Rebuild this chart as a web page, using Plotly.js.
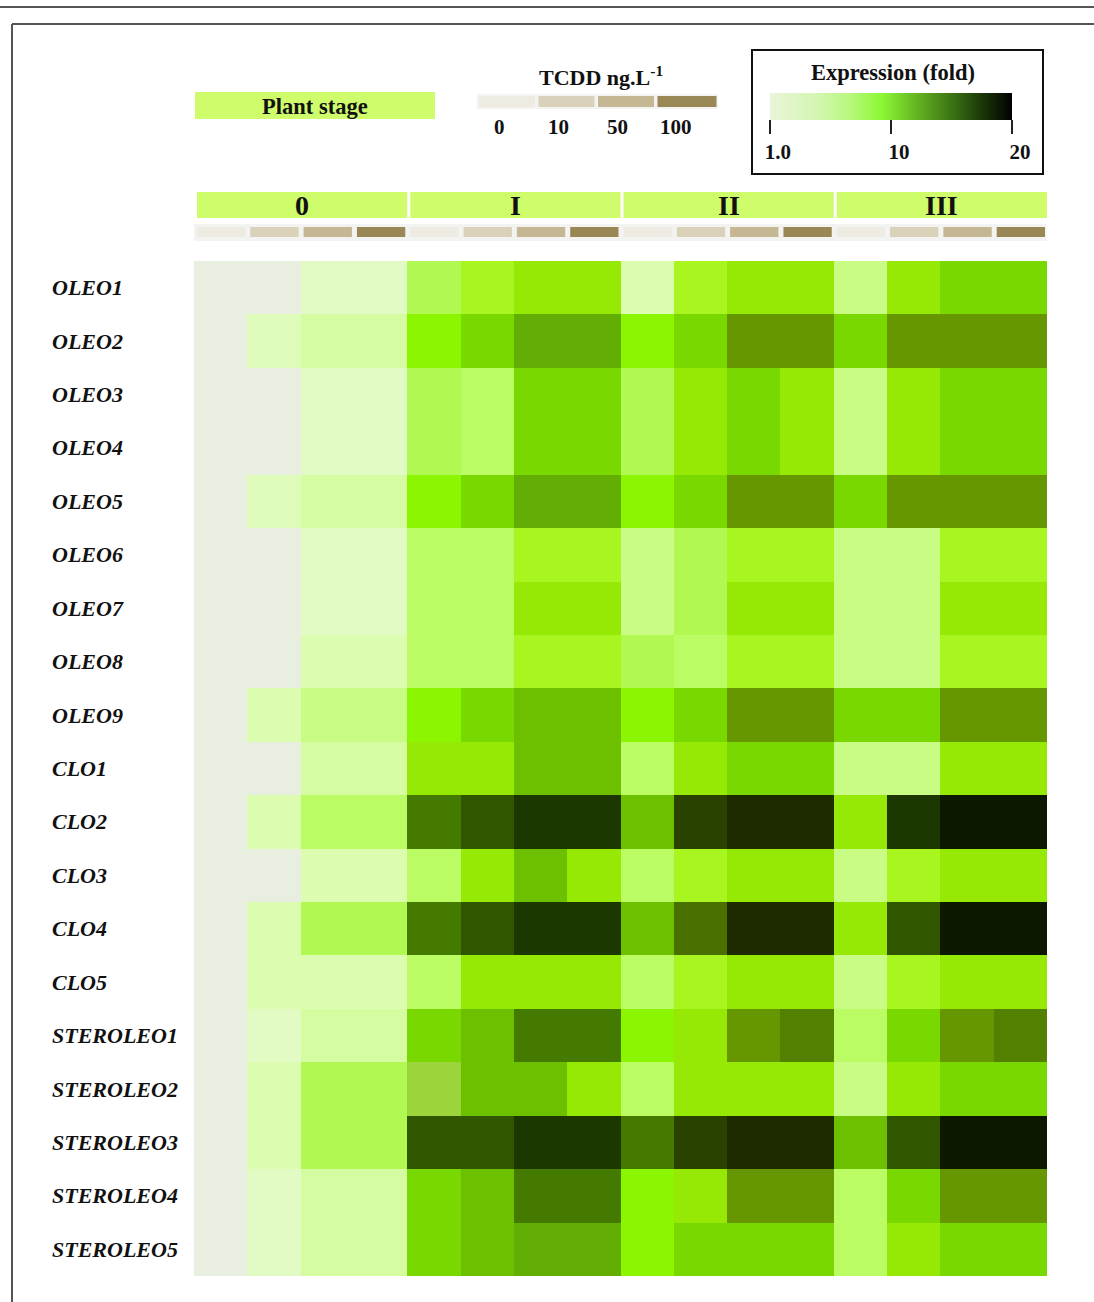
<!DOCTYPE html>
<html>
<head>
<meta charset="utf-8">
<script src="https://cdn.plot.ly/plotly-3.0.1.min.js"></script>
<style>html,body{margin:0;padding:0;background:#fff;}#chart{width:1094px;height:1302px;}</style>
</head>
<body>
<div id="chart"></div>
<script>
// ---------------- DATA ----------------
const genes = ['OLEO1','OLEO2','OLEO3','OLEO4','OLEO5','OLEO6','OLEO7','OLEO8','OLEO9',
  'CLO1','CLO2','CLO3','CLO4','CLO5','STEROLEO1','STEROLEO2','STEROLEO3','STEROLEO4','STEROLEO5'];
const stages = ['0','I','II','III'];
const concs = ['0','10','50','100'];
const concColors = ['#EEEBE2','#D9D1B9','#C5B793','#998856'];
// expression fold (columns: stage 0 [0,10,50,100], stage I [...], stage II [...], stage III [...])
const oleo1 = [1,1,2,2, 6.5,8,9,9, 3,8,9,9, 5,9,11,11];
const oleo2 = [1,2.5,3.5,3.5, 10,11,13,13, 10,11,14,14, 11,14,14,14];
const oleo3 = [1,1,2,2, 6.5,6,11,11, 6.5,9,11,9, 5,9,11,11];
const oleo4 = [1,1,2,2, 6.5,6,11,11, 6.5,9,11,9, 5,9,11,11];
const oleo5 = [1,2.5,3.5,3.5, 10,11,13,13, 10,11,14,14, 11,14,14,14];
const oleo6 = [1,1,2,2, 6,6,8,8, 5,6.5,8,8, 5,5,8,8];
const oleo7 = [1,1,2,2, 6,6,9,9, 5,6.5,9,9, 5,5,9,9];
const oleo8 = [1,1,3,3, 6,6,8,8, 6.5,6,8,8, 5,5,8,8];
const oleo9 = [1,3,5,5, 10,11,12,12, 10,11,14,14, 11,11,14,14];
const clo1 = [1,1,3.5,3.5, 9,9,12,12, 6,9,11,11, 5,5,9,9];
const clo2 = [1,3,6,6, 15.5,16.5,18,18, 12,17,19,19, 9,18,20,20];
const clo3 = [1,1,3,3, 6,9,12,9, 6,8,9,9, 5,8,9,9];
const clo4 = [1,3,6.5,6.5, 15.5,16.5,18,18, 12,15.3,19,19, 9,16.5,20,20];
const clo5 = [1,3,3,3, 6,9,9,9, 6,8,9,9, 5,8,9,9];
const steroleo1 = [1,2,3.5,3.5, 11,12,15.5,15.5, 10,9,14,15, 6,11,14,15];
const steroleo2 = [1,3,6.5,6.5, 8.5,12,12,9, 6,9,9,9, 5,9,11,11];
const steroleo3 = [1,3,6.5,6.5, 16.5,16.5,18,18, 15.5,17,19,19, 12,16.5,20,20];
const steroleo4 = [1,2,3.5,3.5, 11,12,15.5,15.5, 10,9,14,14, 6,11,14,14];
const steroleo5 = [1,2,3.5,3.5, 11,12,13,13, 10,11,11,11, 6,9,11,11];
// legend bar: tick marks as drawn on the 1-20 bar (the "10" mark sits at the bar's middle)
const legendTickPos = [1, 10.5, 20];
const legendTickText = ['1.0', '10', '20'];

// ---------------- STYLE ----------------
const FONT = 'Liberation Serif, "Times New Roman", Times, serif';
const zmin = 1, zmax = 20;
const cellStops = [
  [1,'#E8EEE0'],[2,'#E2FAC4'],[3,'#DCFCB0'],[3.5,'#D6FCA2'],[5,'#C8FC84'],[6,'#BBFC64'],
  [6.5,'#B2F852'],[8,'#A8F520'],[8.5,'#9CD43C'],[9,'#96E805'],[10,'#8CF500'],[11,'#78D800'],
  [12,'#6CC000'],[13,'#62AE04'],[14,'#669600'],[15,'#548000'],[15.3,'#4A7000'],[15.5,'#447A00'],
  [16.5,'#305600'],[17,'#2A4200'],[18,'#1C3800'],[19,'#1E2A00'],[20,'#0C1800']];
const cellScale = cellStops.map(s => [(s[0]-zmin)/(zmax-zmin), s[1]]);
const legendScale = [[0,'#E9F5D9'],[0.2,'#D3F6B0'],[0.33,'#B8F77E'],[0.46,'#8EF834'],
  [0.6,'#66B822'],[0.75,'#3C7414'],[0.88,'#1A3608'],[1,'#000000']];

const z = [oleo1,oleo2,oleo3,oleo4,oleo5,oleo6,oleo7,oleo8,oleo9,clo1,clo2,clo3,clo4,clo5,
  steroleo1,steroleo2,steroleo3,steroleo4,steroleo5];
const nCols = stages.length * concs.length;
const cols = [...Array(nCols).keys()];

// plot area in pixels
const L = 194, R = 1047, T = 261, B = 1276, W = 1094, H = 1302;
const px = x => (x - L) / (R - L);
const py = y => (B - y) / (B - T);

const shapes = [];
const annotations = [];
const txt = (x, y, text, size, extra) => Object.assign({xref:'paper', yref:'paper', x:px(x), y:py(y), text:text,
  showarrow:false, xanchor:'center', yanchor:'middle', font:{family:FONT, size:size, color:'#111'}}, extra || {});

// page border lines
shapes.push({type:'line', xref:'paper', yref:'paper', x0:px(0), x1:px(1094), y0:py(7), y1:py(7), line:{color:'#555', width:2}});
shapes.push({type:'line', xref:'paper', yref:'paper', x0:px(12), x1:px(1094), y0:py(24), y1:py(24), line:{color:'#555', width:2}});
shapes.push({type:'line', xref:'paper', yref:'paper', x0:px(12), x1:px(12), y0:py(24), y1:py(1302), line:{color:'#555', width:2}});

// "Plant stage" legend box
shapes.push({type:'rect', xref:'paper', yref:'paper', x0:px(195), x1:px(435), y0:py(119), y1:py(92), fillcolor:'#CFFC6A', line:{width:0}});
annotations.push(txt(315, 106, '<b>Plant stage</b>', 22.5));

// TCDD legend
annotations.push(txt(601, 76, '<b>TCDD ng.L<sup>-1</sup></b>', 22));
shapes.push({type:'rect', xref:'paper', yref:'paper', x0:px(477), x1:px(718), y0:py(109), y1:py(94), fillcolor:'#F3F3F1', line:{width:0}});
concs.forEach((c, i) => {
  shapes.push({type:'rect', xref:'paper', yref:'paper', x0:px(479 + 59.5*i), x1:px(535 + 59.5*i + (i===3?3:0)), y0:py(107), y1:py(96),
    fillcolor:concColors[i], line:{width:0}});
  annotations.push(txt(499 + 59*i, 127, '<b>' + c + '</b>', 21));
});

// Expression legend box
shapes.push({type:'rect', xref:'paper', yref:'paper', x0:px(752), x1:px(1043), y0:py(174), y1:py(50), line:{color:'#111', width:2}, fillcolor:'rgba(0,0,0,0)'});
annotations.push(txt(893, 72, '<b>Expression (fold)</b>', 22.5));

// stage header boxes and concentration strips (data x coords)
const dx = 1 / ((R - L) / nCols); // one pixel in data units
stages.forEach((s, si) => {
  const x0 = si*concs.length - 0.5 + 3*dx, x1 = si*concs.length + concs.length - 0.5;
  shapes.push({type:'rect', xref:'x', yref:'paper', x0:x0, x1:x1, y0:py(218), y1:py(192), fillcolor:'#CFFC6A', line:{width:0}});
  annotations.push({xref:'x', yref:'paper', x:(x0 + x1)/2, y:py(206), xanchor:'center', yanchor:'middle', text:'<b>' + s + '</b>', showarrow:false,
    font:{family:FONT, size:28, color:'#111'}});
});
shapes.push({type:'rect', xref:'x', yref:'paper', x0:-0.5 - 2*dx, x1:nCols - 0.5 + 2*dx, y0:py(241), y1:py(224), fillcolor:'#F3F3F1', line:{width:0}});
cols.forEach(ci => {
  const k = ci % concs.length;
  shapes.push({type:'rect', xref:'x', yref:'paper', x0:ci - 0.5 + 3*dx, x1:ci + 0.5 - 2*dx, y0:py(237), y1:py(227),
    fillcolor:concColors[k], line:{width:0}});
});

// gene labels (left aligned)
genes.forEach(g => {
  annotations.push({xref:'paper', yref:'y', x:px(50), xanchor:'left', yanchor:'middle', y:g, text:'<b><i>' + g + '</i></b>', showarrow:false,
    font:{family:FONT, size:22, color:'#111'}});
});

const heat = {
  type:'heatmap', z:z, x:cols, y:genes, zmin:zmin, zmax:zmax, colorscale:cellScale, showscale:false,
  xgap:0, ygap:0, hovertemplate:'%{y}<br>col %{x}: %{z}<extra></extra>'
};

const NB = '\u00a0';
const legendTrace = {
  type:'scatter', mode:'markers', x:legendTickPos, y:legendTickPos, xaxis:'x2', yaxis:'y2', hoverinfo:'skip', showlegend:false,
  marker:{color:legendTickPos, cmin:zmin, cmax:zmax, colorscale:legendScale, opacity:0, size:1, showscale:true,
    colorbar:{orientation:'h', x:px(891), xanchor:'center', y:py(93), yanchor:'top', len:242, lenmode:'pixels',
      thickness:27, thicknessmode:'pixels', outlinewidth:0, ticks:'outside', ticklen:14, tickwidth:2, tickcolor:'#222',
      tickvals:legendTickPos, ticktext:legendTickText.map(t => NB + NB + NB + '<b>' + t + '</b>'),
      tickfont:{family:FONT, size:21, color:'#111'}, xpad:0, ypad:0}}
};

const layout = {
  width:W, height:H,
  margin:{l:L, r:W - R, t:T, b:H - B, pad:0},
  paper_bgcolor:'#ffffff', plot_bgcolor:'rgba(0,0,0,0)',
  xaxis:{range:[-0.5, nCols - 0.5], visible:false, fixedrange:true},
  yaxis:{type:'category', autorange:'reversed', showticklabels:false, showgrid:false, zeroline:false, ticks:'', fixedrange:true},
  xaxis2:{domain:[0, 0.01], anchor:'y2', visible:false},
  yaxis2:{domain:[0, 0.01], anchor:'x2', visible:false},
  shapes:shapes, annotations:annotations, showlegend:false
};

Plotly.newPlot('chart', [heat, legendTrace], layout, {displayModeBar:false, staticPlot:true});
</script>
</body>
</html>
